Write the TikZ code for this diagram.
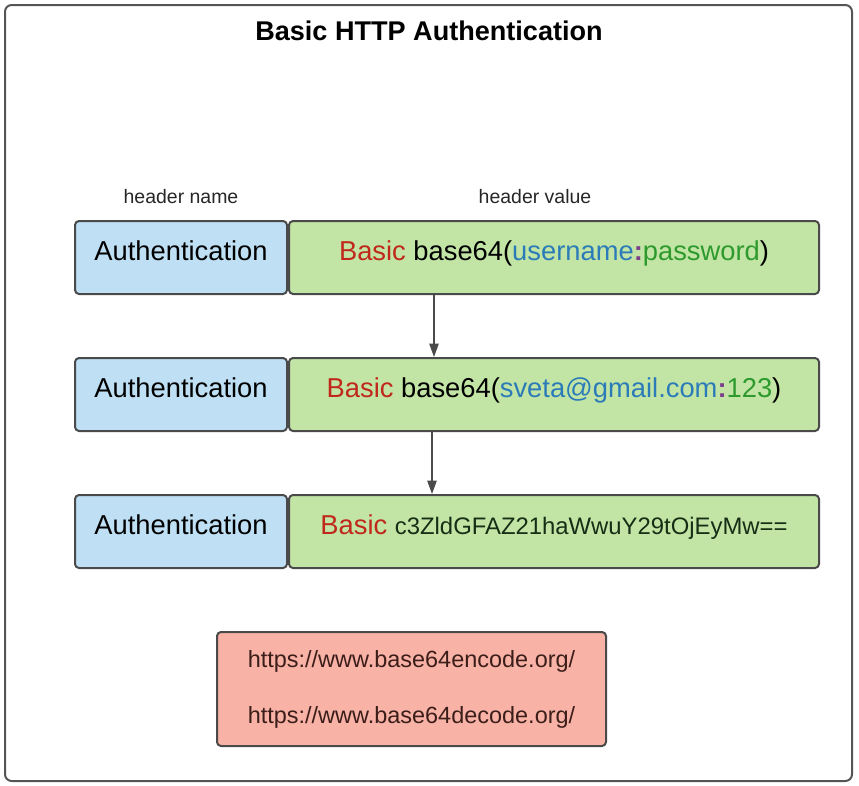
\documentclass[tikz,border=0pt]{standalone}
\usepackage{fontspec}
\setmainfont{Liberation Sans}
\definecolor{frame}{HTML}{555555}
\definecolor{edge}{HTML}{4A4A4A}
\definecolor{namefill}{HTML}{BEDFF4}
\definecolor{valfill}{HTML}{C2E5A5}
\definecolor{linkfill}{HTML}{F9B2A6}
\definecolor{scheme}{HTML}{C0281C}
\definecolor{user}{HTML}{2B7BB9}
\definecolor{pass}{HTML}{2E9A2E}
\definecolor{sep}{HTML}{7B3F8C}
\definecolor{coded}{HTML}{152E15}
\definecolor{linktext}{HTML}{3B1E1A}
\usetikzlibrary{positioning, arrows.meta, calc}

\begin{document}
\begin{tikzpicture}[x=0.75pt, y=-0.75pt, line join=round,
    namebox/.style={draw=edge, line width=1.5pt, fill=namefill, rounded corners=3pt,
        minimum width=159pt, minimum height=54.75pt, text height=0.8em, text depth=0.34em,
        font=\fontsize{20.5}{24}\selectfont},
    valbox/.style={draw=edge, line width=1.5pt, fill=valfill, rounded corners=3pt,
        minimum width=397.5pt, minimum height=54.75pt, text height=0.8em, text depth=0.34em,
        font=\fontsize{20.5}{24}\selectfont},
    linkbox/.style={draw=edge, line width=1.5pt, fill=linkfill, rounded corners=3pt,
        minimum width=291.75pt, minimum height=85.5pt, align=center, text=linktext,
        font=\fontsize{17.6}{42}\selectfont},
    caption/.style={font=\fontsize{14.6}{17}\selectfont, text=black!85},
    flow/.style={draw=edge, line width=1pt, -{Triangle[length=10pt, width=7pt]}}]
    \useasboundingbox (0,0) rectangle (859,785);

    % Outer frame
    \draw[frame, line width=1.5pt, rounded corners=5pt] (5,5) rectangle (852,781);

    % Title
    \node[font=\fontsize{20.3}{24}\selectfont\bfseries] (title) at (429,31) {Basic HTTP Authentication};

    % Column captions
    \node[caption] (hname)  at (181,197) {header name};
    \node[caption] (hvalue) at (535,197) {header value};

    % Header rows
    \node[namebox] (n1) at (181,257.5) {Authentication};
    \node[valbox, right=0pt of n1] (v1)
        {\textcolor{scheme}{Basic} base64(\textcolor{user}{username}\textcolor{sep}{\textbf{:}}\textcolor{pass}{password})};

    \node[namebox] (n2) at (181,394.5) {Authentication};
    \node[valbox, right=0pt of n2] (v2)
        {\textcolor{scheme}{Basic} base64(\textcolor{user}{sveta@gmail.com}\textcolor{sep}{\textbf{:}}\textcolor{pass}{123})};

    \node[namebox] (n3) at (181,531.5) {Authentication};
    \node[valbox, right=0pt of n3] (v3)
        {\textcolor{scheme}{Basic} \textcolor{coded}{\fontsize{17.9}{24}\selectfont c3ZldGFAZ21haWwuY29tOjEyMw==}};

    % Encoding steps
    \draw[flow] ($(v1.south west)+(146,0)$) -- ($(v2.north west)+(146,0)$);
    \draw[flow] ($(v2.south west)+(144,0)$) -- ($(v3.north west)+(144,0)$);

    % Online tools
    \node[linkbox] (links) at (411.5,689)
        {https://www.base64encode.org/\\https://www.base64decode.org/};
\end{tikzpicture}
\end{document}
